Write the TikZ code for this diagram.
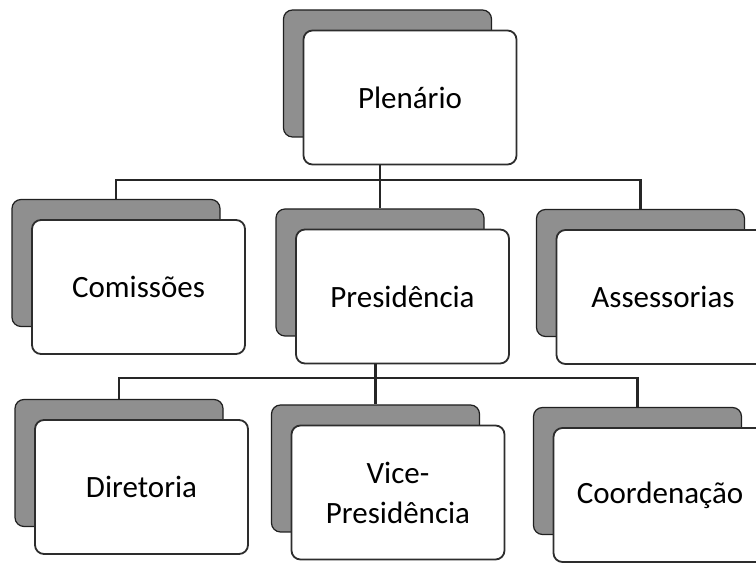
\documentclass[tikz,border=0pt]{standalone}
\usepackage{fontspec}
\setmainfont{Carlito}
\tikzset{
  card/.style={draw=gray!35!black, line width=1.8pt, fill=white, rounded corners=9pt,
    minimum width=213pt, minimum height=134pt, align=center,
    font=\fontsize{31}{40}\selectfont},
  shadow/.style={draw=gray!25!black, line width=1.2pt, fill=gray!88, rounded corners=9pt,
    minimum width=208pt, minimum height=127pt},
  link/.style={draw=gray!30!black, line width=2.8pt}
}
\begin{document}
\begin{tikzpicture}[x=1pt,y=1pt]
      \useasboundingbox (0,0) rectangle (756,564);
      \node[shadow] (plenarioS) at (387.5,490.5) {};
      \node[shadow] (comissoesS) at (116,301) {};
      \node[shadow] (presidenciaS) at (380,291.5) {};
      \node[shadow] (assessoriasS) at (640.5,291) {};
      \node[shadow] (diretoriaS) at (119,101) {};
      \node[shadow] (viceS) at (375.5,95.5) {};
      \node[shadow] (coordenacaoS) at (637.5,93) {};
      \node[card] (plenario) at (410,466.5) {Plenário};
      \node[card] (comissoes) at (138.5,277) {Comissões};
      \node[card] (presidencia) at (402.5,267.5) {Presidência};
      \node[card] (assessorias) at (663,267) {Assessorias};
      \node[card] (diretoria) at (141.5,77) {Diretoria};
      \node[card] (vice) at (398,71.5) {Vice-\\Presidência};
      \node[card] (coordenacao) at (660,69) {Coordenação};
      \coordinate (bus1) at (0,384);
      \coordinate (bus2) at (0,186);
      \begin{scope}[link]
        \draw (presidenciaS |- plenario.south) -- (presidenciaS.north);
        \draw (comissoesS.north) -- (comissoesS |- bus1) -- (assessoriasS |- bus1) -- (assessoriasS.north);
        \draw (viceS |- presidencia.south) -- (viceS.north);
        \draw (diretoriaS.north) -- (diretoriaS |- bus2) -- (coordenacaoS |- bus2) -- (coordenacaoS.north);
      \end{scope}
\end{tikzpicture}
\end{document}
